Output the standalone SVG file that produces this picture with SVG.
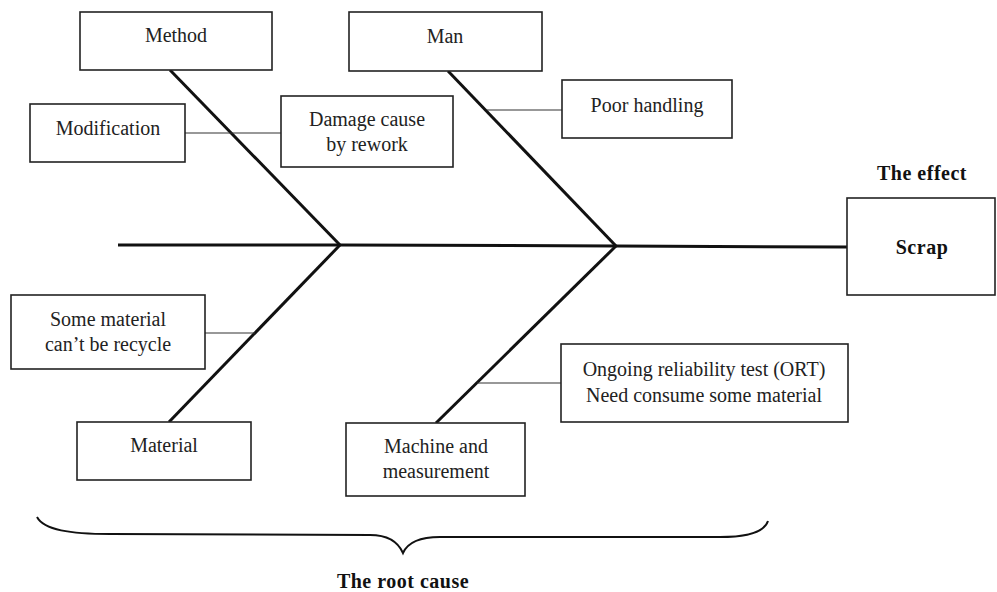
<svg xmlns="http://www.w3.org/2000/svg" width="997" height="592" viewBox="0 0 997 592">
<style>
.box{fill:#fff;stroke:#222;stroke-width:1.6}
.t{font-family:"Liberation Serif","Times New Roman",serif;font-size:20px;fill:#222;text-anchor:middle}
.b{font-family:"Liberation Serif","Times New Roman",serif;font-size:20px;font-weight:bold;fill:#111;text-anchor:middle;letter-spacing:0.5px}
.bone{fill:none;stroke:#111;stroke-width:3;stroke-linejoin:miter}
.thin{fill:none;stroke:#333;stroke-width:1.2}
.brace{fill:none;stroke:#111;stroke-width:2}
</style>
<rect width="997" height="592" fill="#fff"/>
<g id="connectors">
<polyline class="bone" points="118,245 340,245 616,246 847,247"/>
<line class="bone" x1="170" y1="70" x2="340" y2="245"/>
<line class="bone" x1="448" y1="71" x2="616" y2="246"/>
<line class="bone" x1="340" y1="245" x2="169" y2="422"/>
<line class="bone" x1="616" y1="246" x2="436" y2="423"/>
<line class="thin" x1="185" y1="133" x2="281" y2="133"/>
<line class="thin" x1="487" y1="110" x2="562" y2="110"/>
<line class="thin" x1="205" y1="333" x2="255" y2="333"/>
<line class="thin" x1="477" y1="383" x2="561" y2="383"/>
</g>
<g id="method"><rect class="box" x="80" y="12" width="192" height="58"/><text class="t" x="176" y="42">Method</text></g>
<g id="man"><rect class="box" x="349" y="12" width="193" height="59"/><text class="t" x="445" y="43">Man</text></g>
<g id="modification"><rect class="box" x="30" y="104" width="155" height="58"/><text class="t" x="108" y="135">Modification</text></g>
<g id="damage"><rect class="box" x="281" y="96" width="172" height="71"/><text class="t" x="367" y="126">Damage cause</text><text class="t" x="367" y="151">by rework</text></g>
<g id="poor-handling"><rect class="box" x="562" y="80" width="170" height="58"/><text class="t" x="647" y="112">Poor handling</text></g>
<g id="effect-label"><text class="b" x="922" y="180">The effect</text></g>
<g id="scrap"><rect class="box" x="847" y="198" width="148" height="97"/><text class="b" x="922" y="254">Scrap</text></g>
<g id="some-material"><rect class="box" x="11" y="295" width="194" height="74"/><text class="t" x="108" y="326">Some material</text><text class="t" x="108" y="351">can’t be recycle</text></g>
<g id="material"><rect class="box" x="77" y="422" width="174" height="58"/><text class="t" x="164" y="452">Material</text></g>
<g id="machine"><rect class="box" x="346" y="423" width="179" height="73"/><text class="t" x="436" y="453">Machine and</text><text class="t" x="436" y="478">measurement</text></g>
<g id="ort"><rect class="box" x="561" y="344" width="287" height="78"/><text class="t" x="704" y="376">Ongoing reliability test (ORT)</text><text class="t" x="704" y="402">Need consume some material</text></g>
<g id="root-cause">
<path class="brace" d="M37,517 C44,530 70,534 110,534 L370,535 C390,535 399,544 403,553 C407,544 416,537 440,537 L720,537 C752,537 765,530 768,521"/>
<text class="b" x="403" y="588">The root cause</text>
</g>
</svg>
